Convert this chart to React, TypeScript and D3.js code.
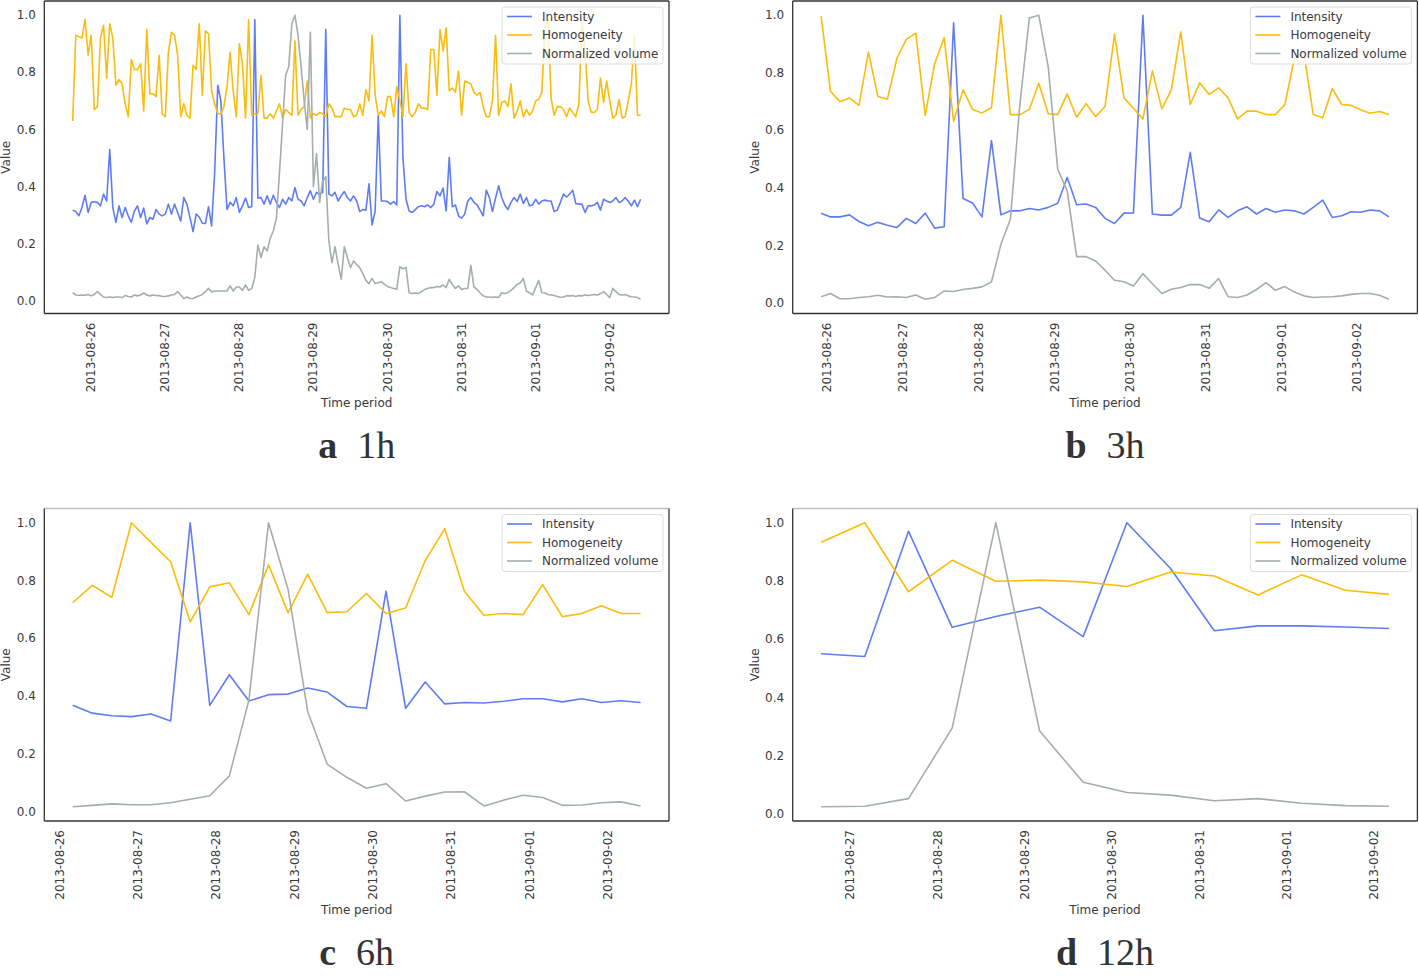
import * as d3 from "d3";

// series names + colours (legend order)
const SERIES_NAMES = ["Intensity", "Homogeneity", "Normalized volume"];
const SERIES_COLORS = ["#5f7cf3", "#fbbc0b", "#a4aeac"];

// ---- 1h aggregation (hourly, from 2013-08-25 18:00) ----
const INTENSITY_1H = [
  0.318, 0.313, 0.298, 0.327, 0.37, 0.31, 0.345, 0.347, 0.345, 0.333,
  0.374, 0.35, 0.53, 0.327, 0.275, 0.333, 0.292, 0.327, 0.298, 0.275,
  0.315, 0.333, 0.292, 0.325, 0.27, 0.292, 0.286, 0.32, 0.304, 0.298,
  0.304, 0.339, 0.304, 0.339, 0.31, 0.28, 0.362, 0.339, 0.292, 0.243,
  0.304, 0.294, 0.272, 0.271, 0.33, 0.263, 0.45, 0.755, 0.7, 0.5,
  0.32, 0.345, 0.333, 0.362, 0.31, 0.333, 0.36, 0.327, 0.33, 0.985,
  0.36, 0.362, 0.339, 0.368, 0.339, 0.37, 0.345, 0.327, 0.356, 0.339,
  0.362, 0.35, 0.397, 0.356, 0.35, 0.333, 0.362, 0.386, 0.356, 0.38,
  0.374, 0.38, 0.95, 0.374, 0.368, 0.38, 0.35, 0.368, 0.383, 0.362,
  0.35, 0.368, 0.35, 0.313, 0.32, 0.318, 0.41, 0.266, 0.315, 0.65,
  0.35, 0.35, 0.348, 0.339, 0.348, 0.336, 1.0, 0.5, 0.356, 0.315,
  0.31, 0.32, 0.33, 0.333, 0.33, 0.336, 0.327, 0.339, 0.383, 0.368,
  0.395, 0.315, 0.502, 0.33, 0.336, 0.298, 0.29, 0.304, 0.35, 0.362,
  0.345, 0.336, 0.318, 0.298, 0.388, 0.362, 0.313, 0.36, 0.403, 0.362,
  0.336, 0.32, 0.345, 0.362, 0.348, 0.374, 0.341, 0.362, 0.333, 0.336,
  0.356, 0.339, 0.35, 0.353, 0.35, 0.35, 0.313, 0.318, 0.345, 0.374,
  0.364, 0.374, 0.388, 0.341, 0.339, 0.339, 0.31, 0.333, 0.333, 0.336,
  0.345, 0.318, 0.356, 0.35, 0.345, 0.35, 0.362, 0.345, 0.35, 0.362,
  0.35, 0.333, 0.353, 0.33, 0.356,
];
const HOMOGENEITY_1H = [
  0.63, 0.93, 0.925, 0.92, 0.985, 0.86, 0.93, 0.67, 0.68, 0.92,
  0.965, 0.78, 0.97, 0.92, 0.755, 0.775, 0.76, 0.69, 0.645, 0.845,
  0.81, 0.81, 0.83, 0.665, 0.95, 0.725, 0.725, 0.715, 0.86, 0.655,
  0.645, 0.87, 0.94, 0.93, 0.86, 0.645, 0.69, 0.65, 0.64, 0.825,
  0.81, 0.97, 0.72, 0.945, 0.935, 0.735, 0.69, 0.655, 0.655, 0.68,
  0.75, 0.87, 0.735, 0.645, 0.9, 0.83, 0.64, 0.985, 0.65, 0.655,
  0.655, 0.79, 0.64, 0.64, 0.655, 0.64, 0.665, 0.69, 0.64, 0.67,
  0.66, 0.65, 0.91, 0.65, 0.67, 0.68, 0.77, 0.64, 0.655, 0.65,
  0.66, 0.655, 0.645, 0.69, 0.675, 0.645, 0.645, 0.645, 0.675, 0.67,
  0.67, 0.645, 0.65, 0.69, 0.65, 0.74, 0.7, 0.93, 0.72, 0.65,
  0.665, 0.645, 0.715, 0.715, 0.645, 0.75, 0.7, 0.645, 0.83, 0.66,
  0.645, 0.66, 0.69, 0.675, 0.675, 0.67, 0.88, 0.88, 0.72, 0.95,
  0.875, 0.955, 0.735, 0.745, 0.73, 0.805, 0.65, 0.77, 0.765, 0.76,
  0.73, 0.72, 0.73, 0.68, 0.645, 0.645, 0.7, 0.93, 0.65, 0.695,
  0.7, 0.68, 0.76, 0.64, 0.665, 0.7, 0.645, 0.67, 0.65, 0.665,
  0.7, 0.705, 0.73, 0.96, 0.98, 0.71, 0.65, 0.68, 0.68, 0.67,
  0.645, 0.675, 0.66, 0.645, 0.69, 0.98, 0.88, 0.7, 0.66, 0.66,
  0.67, 0.78, 0.695, 0.77, 0.7, 0.64, 0.65, 0.705, 0.64, 0.645,
  0.7, 0.76, 0.93, 0.65, 0.65,
];
const VOLUME_1H = [
  0.029, 0.021, 0.02, 0.021, 0.02, 0.023, 0.018, 0.023, 0.033, 0.023,
  0.014, 0.012, 0.014, 0.012, 0.014, 0.014, 0.012, 0.019, 0.016, 0.014,
  0.021, 0.018, 0.021, 0.028, 0.021, 0.018, 0.021, 0.019, 0.019, 0.016,
  0.016, 0.018, 0.021, 0.023, 0.033, 0.021, 0.009, 0.014, 0.009, 0.009,
  0.014, 0.018, 0.023, 0.033, 0.044, 0.032, 0.035, 0.035, 0.035, 0.035,
  0.035, 0.053, 0.035, 0.049, 0.049, 0.037, 0.056, 0.037, 0.044, 0.082,
  0.196, 0.152, 0.19, 0.175, 0.22, 0.245, 0.29, 0.45, 0.62, 0.79,
  0.82, 0.97, 1.0, 0.93, 0.82, 0.7, 0.6, 0.94, 0.4, 0.515,
  0.345, 0.42, 0.435, 0.21, 0.134, 0.19, 0.128, 0.076, 0.19, 0.152,
  0.117, 0.14, 0.128, 0.117, 0.096, 0.072, 0.061, 0.079, 0.061, 0.064,
  0.068, 0.058, 0.051, 0.047, 0.044, 0.041, 0.12, 0.113, 0.117, 0.029,
  0.026, 0.028, 0.026, 0.033, 0.04, 0.044, 0.047, 0.047, 0.051, 0.049,
  0.056, 0.047, 0.076, 0.058, 0.044, 0.053, 0.04, 0.044, 0.044, 0.125,
  0.049, 0.041, 0.028, 0.018, 0.014, 0.014, 0.013, 0.014, 0.012, 0.029,
  0.026, 0.03, 0.037, 0.047, 0.058, 0.064, 0.079, 0.035, 0.029, 0.021,
  0.047, 0.072, 0.029, 0.028, 0.023, 0.021, 0.019, 0.016, 0.013, 0.014,
  0.018, 0.018, 0.019, 0.016, 0.019, 0.018, 0.021, 0.019, 0.021, 0.023,
  0.021, 0.026, 0.033, 0.023, 0.012, 0.044, 0.033, 0.023, 0.021, 0.023,
  0.018, 0.015, 0.014, 0.012, 0.006,
];

// ---- 3h ----
const INTENSITY_3H = [
  0.313, 0.3, 0.3, 0.307, 0.284, 0.269, 0.281, 0.271, 0.263, 0.295,
  0.277, 0.313, 0.261, 0.266, 0.974, 0.364, 0.348, 0.3, 0.565, 0.307,
  0.321, 0.321, 0.329, 0.324, 0.333, 0.347, 0.437, 0.342, 0.345, 0.333,
  0.295, 0.277, 0.313, 0.314, 1.0, 0.31, 0.306, 0.306, 0.333, 0.524,
  0.296, 0.283, 0.324, 0.298, 0.321, 0.335, 0.31, 0.329, 0.316, 0.324,
  0.321, 0.31, 0.333, 0.358, 0.298, 0.304, 0.318, 0.316, 0.324, 0.321,
  0.3,
];
const HOMOGENEITY_3H = [
  0.997, 0.735, 0.7, 0.713, 0.687, 0.872, 0.718, 0.708, 0.849, 0.916,
  0.938, 0.652, 0.832, 0.922, 0.632, 0.741, 0.673, 0.661, 0.679, 1.0,
  0.655, 0.655, 0.673, 0.764, 0.658, 0.655, 0.727, 0.646, 0.693, 0.648,
  0.683, 0.934, 0.713, 0.677, 0.64, 0.806, 0.675, 0.741, 0.942, 0.69,
  0.766, 0.725, 0.748, 0.713, 0.64, 0.667, 0.667, 0.655, 0.655, 0.69,
  0.85, 0.87, 0.655, 0.644, 0.745, 0.69, 0.687, 0.672, 0.66, 0.666,
  0.655,
];
const VOLUME_3H = [
  0.023, 0.034, 0.016, 0.016, 0.02, 0.023, 0.028, 0.022, 0.023, 0.02,
  0.029, 0.014, 0.02, 0.043, 0.041, 0.048, 0.052, 0.057, 0.074, 0.205,
  0.292, 0.69, 0.99, 1.0, 0.82, 0.466, 0.39, 0.162, 0.162, 0.147,
  0.115, 0.08, 0.075, 0.06, 0.103, 0.068, 0.034, 0.049, 0.055, 0.065,
  0.065, 0.052, 0.086, 0.023, 0.02, 0.029, 0.048, 0.072, 0.045, 0.058,
  0.039, 0.026, 0.02, 0.022, 0.023, 0.026, 0.031, 0.034, 0.034, 0.028,
  0.014,
];

// ---- 6h ----
const INTENSITY_6H = [
  0.368, 0.341, 0.332, 0.329, 0.338, 0.314, 1.0, 0.368, 0.474, 0.383,
  0.405, 0.407, 0.428, 0.414, 0.364, 0.358, 0.763, 0.358, 0.449, 0.373,
  0.378, 0.376, 0.382, 0.391, 0.391, 0.38, 0.391, 0.378, 0.384, 0.378,
];
const HOMOGENEITY_6H = [
  0.723, 0.783, 0.742, 1.0, 0.932, 0.865, 0.657, 0.778, 0.792, 0.682,
  0.854, 0.688, 0.822, 0.689, 0.692, 0.755, 0.686, 0.705, 0.869, 0.979,
  0.763, 0.68, 0.686, 0.682, 0.786, 0.675, 0.686, 0.713, 0.686, 0.686,
];
const VOLUME_6H = [
  0.017, 0.022, 0.027, 0.024, 0.024, 0.031, 0.043, 0.055, 0.124, 0.387,
  1.0, 0.769, 0.347, 0.164, 0.119, 0.081, 0.097, 0.037, 0.054, 0.068,
  0.069, 0.02, 0.04, 0.057, 0.049, 0.022, 0.023, 0.031, 0.034, 0.02,
];

// ---- 12h ----
const INTENSITY_12H = [0.55, 0.541, 0.971, 0.641, 0.678, 0.71, 0.609, 1.0, 0.843, 0.629, 0.646, 0.646, 0.642, 0.637];
const HOMOGENEITY_12H = [0.933, 1.0, 0.763, 0.871, 0.799, 0.803, 0.797, 0.781, 0.831, 0.817, 0.752, 0.821, 0.768, 0.754];
const VOLUME_12H = [0.025, 0.027, 0.053, 0.295, 1.0, 0.286, 0.109, 0.074, 0.065, 0.046, 0.053, 0.037, 0.029, 0.027];

// first timestamp and step (hours) of each aggregation
const STARTS = [new Date(2013, 7, 25, 18), new Date(2013, 7, 25, 22), new Date(2013, 7, 26, 4), new Date(2013, 7, 26, 16)];
const STEPS = [1, 3, 6, 12];
const LETTERS = ["a", "b", "c", "d"];
const RESOLUTIONS = ["1h", "3h", "6h", "12h"];

const W = 1419, H = 978;
const AX_W = 624.7, AX_H = 312.5;
const LEFTS = [44.3, 792.7, 44.3, 792.7];
const TOPS = [1, 1, 508.5, 508.5];
const SANS = "'DejaVu Sans', sans-serif";
const TXT = "#3a3a3a";

function Panel({ idx, series }: { idx: number; series: number[][] }) {
  const left = LEFTS[idx], top = TOPS[idx], right = left + AX_W, bottom = top + AX_H;
  const times = series[0].map((_, i) => d3.timeHour.offset(STARTS[idx], i * STEPS[idx]));
  const t0 = +times[0], t1 = +times[times.length - 1], tp = (t1 - t0) * 0.05;
  const x = d3.scaleTime().domain([new Date(t0 - tp), new Date(t1 + tp)]).range([left, right]);
  const [lo, hi] = d3.extent(series.flat()) as [number, number];
  const vp = (hi - lo) * 0.05;
  const y = d3.scaleLinear().domain([lo - vp, hi + vp]).range([bottom, top]);
  const days = d3.timeDay.range(d3.timeDay.ceil(x.domain()[0]), x.domain()[1]);
  const fmt = d3.timeFormat("%Y-%m-%d");
  const line = d3.line<number>().x((_, i) => x(times[i])).y(d => y(d));
  const lg = { x: right - 6 - 161, y: top + 6 };
  const cx = left + AX_W / 2;
  return (
    <g>
      {series.map((s, si) => (
        <path key={si} d={line(s) || ""} fill="none" stroke={SERIES_COLORS[si]} strokeWidth={1.6} strokeLinejoin="round" />
      ))}
      {/* spines */}
      <line x1={left} x2={right} y1={top} y2={top} stroke={idx < 2 ? "#333" : "#b9c1c0"} strokeWidth={1.3} />
      <line x1={left} x2={left} y1={top} y2={bottom} stroke="#333" strokeWidth={1.3} />
      <line x1={right} x2={right} y1={top} y2={bottom} stroke="#333" strokeWidth={1.3} />
      <line x1={left} x2={right} y1={bottom} y2={bottom} stroke="#333" strokeWidth={1.3} />
      {y.ticks(5).map(t => (
        <text key={t} x={left - 8.5} y={y(t)} textAnchor="end" dominantBaseline="central" fontSize={12} fontFamily={SANS} fill={TXT}>
          {d3.format(".1f")(t)}
        </text>
      ))}
      {days.map(d => (
        <text key={+d} transform={`translate(${x(d)},${bottom + 9}) rotate(-90)`} textAnchor="end" dominantBaseline="central"
          fontSize={12} fontFamily={SANS} fill={TXT}>{fmt(d)}</text>
      ))}
      <text transform={`translate(${left - 38},${(top + bottom) / 2}) rotate(-90)`} textAnchor="middle" dominantBaseline="central"
        fontSize={12} fontFamily={SANS} fill={TXT}>Value</text>
      <text x={cx} y={bottom + 93} textAnchor="middle" fontSize={12} fontFamily={SANS} fill={TXT}>Time period</text>
      {/* legend */}
      <rect x={lg.x} y={lg.y} width={161} height={57} rx={3} fill="#fff" fillOpacity={0.8} stroke="#dcdcdc" strokeWidth={1} />
      {SERIES_NAMES.map((n, si) => (
        <g key={n}>
          <line x1={lg.x + 5} x2={lg.x + 30} y1={lg.y + 9.5 + si * 18.5} y2={lg.y + 9.5 + si * 18.5} stroke={SERIES_COLORS[si]} strokeWidth={1.6} />
          <text x={lg.x + 40} y={lg.y + 9.5 + si * 18.5} dominantBaseline="central" fontSize={12} fontFamily={SANS} fill={TXT}>{n}</text>
        </g>
      ))}
      {/* caption */}
      <text x={cx} y={bottom + 144} textAnchor="middle" fontFamily="'Liberation Serif', 'Times New Roman', serif" fontSize={38} fill="#333">
        <tspan fontWeight="bold">{LETTERS[idx]}</tspan>
        <tspan dx={20}>{RESOLUTIONS[idx]}</tspan>
      </text>
    </g>
  );
}

export default function App() {
  const data = [
    [INTENSITY_1H, HOMOGENEITY_1H, VOLUME_1H],
    [INTENSITY_3H, HOMOGENEITY_3H, VOLUME_3H],
    [INTENSITY_6H, HOMOGENEITY_6H, VOLUME_6H],
    [INTENSITY_12H, HOMOGENEITY_12H, VOLUME_12H],
  ];
  return (
    <>
      <style>{`body{margin:0;background:#fff}`}</style>
      <svg width={W} height={H} style={{ display: "block" }}>
        <rect width={W} height={H} fill="#fff" />
        {data.map((s, i) => <Panel key={i} idx={i} series={s} />)}
      </svg>
    </>
  );
}
